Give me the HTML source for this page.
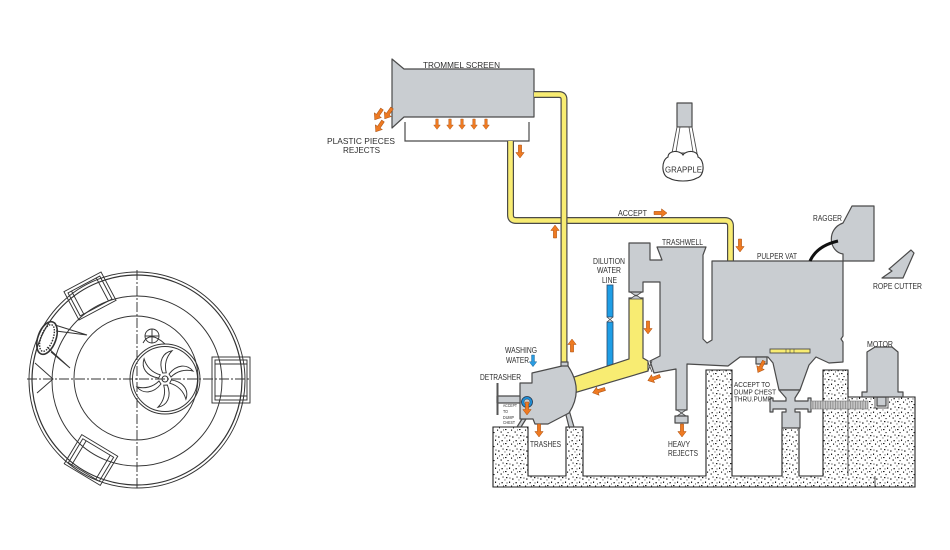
<!DOCTYPE html>
<html><head><meta charset="utf-8"><style>
html,body{margin:0;padding:0;background:#fff;}
svg{display:block;}
text{font-family:"Liberation Sans",Arial,sans-serif;fill:#2e2e2e;}
.g{fill:#c9cdd1;stroke:#4a4a4a;stroke-width:1.2;stroke-linejoin:round;}
.yl{fill:#f8ec72;stroke:#4a4a4a;stroke-width:1.2;}
.ln{fill:none;stroke:#333;stroke-width:0.95;}
.ar{fill:#ee7a22;stroke:#a84f10;stroke-width:0.5;}
</style></head><body>
<svg width="950" height="550" viewBox="0 0 950 550" xmlns="http://www.w3.org/2000/svg">
<defs>
<pattern id="conc" width="14" height="14" patternUnits="userSpaceOnUse">
<rect width="14" height="14" fill="#fff"/>
<g fill="#1a1a1a">
<rect x="2" y="1" width="1.4" height="1.2"/><rect x="8" y="2.5" width="1.6" height="1.1"/>
<rect x="5" y="5.5" width="1.1" height="1.5"/><rect x="11.5" y="6" width="1.3" height="1.3"/>
<rect x="1" y="9" width="1.5" height="1.1"/><rect x="7" y="9.5" width="1.1" height="1.3"/>
<rect x="10.5" y="11.5" width="1.4" height="1.1"/><rect x="3.5" y="12" width="1.1" height="1.1"/>
<rect x="12.5" y="0.5" width="1.1" height="1.1"/><rect x="9" y="7.5" width="0.9" height="0.9"/>
<rect x="5.5" y="1.5" width="0.9" height="1.1"/><rect x="2.5" y="6.5" width="1" height="0.9"/>
<rect x="0.5" y="3.5" width="0.9" height="0.9"/><rect x="13" y="9.5" width="0.9" height="0.9"/>
</g></pattern>
<pattern id="hatch" width="2.5" height="8" patternUnits="userSpaceOnUse">
<rect width="2.5" height="8" fill="#c4c4c4"/><rect width="0.8" height="8" fill="#8a8a8a"/>
</pattern>
<path id="arr" d="M-1.6,0 H1.6 V7.5 H4.2 L0,13 L-4.2,7.5 H-1.6 Z"/>
</defs>

<!-- ============ LEFT PLAN VIEW ============ -->
<g class="ln">
<circle cx="137" cy="380" r="108"/>
<circle cx="137" cy="380" r="105" stroke-width="1.2"/>
<circle cx="137" cy="381" r="85"/>
<circle cx="136" cy="378" r="62"/>
<line x1="137" y1="270" x2="137" y2="490" stroke-dasharray="10,2,2,2"/>
<line x1="27" y1="379" x2="250" y2="379" stroke-dasharray="10,2,2,2"/>
<circle cx="165" cy="379" r="35"/>
<circle cx="165" cy="379" r="32.5"/>
<circle cx="165" cy="379" r="3"/>
<g transform="translate(165,379)">
<path d="M4,-5 C12,-15 22,-15 28,-8 C20,-10 12,-8 6,-2 Z"/>
<path d="M4,-5 C12,-15 22,-15 28,-8 C20,-10 12,-8 6,-2 Z" transform="rotate(60)"/>
<path d="M4,-5 C12,-15 22,-15 28,-8 C20,-10 12,-8 6,-2 Z" transform="rotate(120)"/>
<path d="M4,-5 C12,-15 22,-15 28,-8 C20,-10 12,-8 6,-2 Z" transform="rotate(180)"/>
<path d="M4,-5 C12,-15 22,-15 28,-8 C20,-10 12,-8 6,-2 Z" transform="rotate(240)"/>
<path d="M4,-5 C12,-15 22,-15 28,-8 C20,-10 12,-8 6,-2 Z" transform="rotate(300)"/>
</g>
<circle cx="152" cy="336" r="7"/>
<line x1="145" y1="336" x2="159" y2="336"/><line x1="152" y1="329" x2="152" y2="343"/>
<path d="M143,343 Q150,330 165,344"/>
<g transform="translate(90,296) rotate(-28)">
<rect x="-21" y="-16" width="42" height="32"/><rect x="-18" y="-13" width="36" height="26"/>
<line x1="-14" y1="-13" x2="-14" y2="13"/><line x1="14" y1="-13" x2="14" y2="13"/>
</g>
<g transform="translate(231,380)">
<rect x="-19" y="-23" width="38" height="46"/><rect x="-16" y="-20" width="32" height="40"/>
<line x1="-16" y1="-16" x2="16" y2="-16"/><line x1="-16" y1="16" x2="16" y2="16"/>
</g>
<g transform="translate(91,460) rotate(31)">
<rect x="-21" y="-17" width="42" height="34"/><rect x="-18" y="-14" width="36" height="28"/>
<line x1="-14" y1="-14" x2="-14" y2="14"/><line x1="14" y1="-14" x2="14" y2="14"/>
</g>
<ellipse cx="47" cy="338" rx="9" ry="17" transform="rotate(20 47 338)" stroke-width="1.6"/>
<ellipse cx="47" cy="338" rx="6" ry="14" transform="rotate(20 47 338)" stroke-dasharray="1.5,1.2" stroke-width="1.4"/>
<polyline points="55,325 87,335 56,331"/>
<polyline points="47,347 70,368 51,352"/>
<polyline points="35,363 53,379 37,393"/>
</g>

<!-- ============ CONCRETE ============ -->
<path d="M493,427 H528 V476 H566 V427 H583 V476 H706 V370 H732 V476 H782 V428 H799 V476 H823 V370 H848 V397 H915 V487 H493 Z" fill="url(#conc)" stroke="#222" stroke-width="1.1"/>
<line x1="848" y1="397" x2="848" y2="476" stroke="#222" stroke-width="0.8"/>
<line x1="875" y1="476" x2="875" y2="487" stroke="#222" stroke-width="0.8"/>

<!-- ============ TROMMEL ============ -->
<polygon class="g" points="392,59 404,69 534,69 534,117 404,117 392,128"/>
<polyline points="405,122 405,141 529,141 529,122" fill="none" stroke="#4a4a4a" stroke-width="1.2"/>

<path d="M534,94.5 H559 Q564,94.5 564,99.5 V367" fill="none" stroke="#4a4a4a" stroke-width="7"/>
<path d="M534,94.5 H559 Q564,94.5 564,99.5 V367" fill="none" stroke="#f8ec72" stroke-width="4.6"/>
<path d="M510.5,141 V215 Q510.5,220.5 516,220.5 H560.5" fill="none" stroke="#4a4a4a" stroke-width="7"/>
<path d="M510.5,141 V215 Q510.5,220.5 516,220.5 H560.5" fill="none" stroke="#f8ec72" stroke-width="4.6"/>
<path d="M567.5,220.5 H725 Q730.5,220.5 730.5,226 V261" fill="none" stroke="#4a4a4a" stroke-width="7"/>
<path d="M567.5,220.5 H725 Q730.5,220.5 730.5,226 V261" fill="none" stroke="#f8ec72" stroke-width="4.6"/>

<rect x="607" y="285" width="6" height="32" fill="#1e9ee6" stroke="#2b4a6b" stroke-width="0.8"/>
<rect x="607" y="322" width="6" height="46" fill="#1e9ee6" stroke="#2b4a6b" stroke-width="0.8"/>
<path d="M607,317 L613,322 M613,317 L607,322" stroke="#444" stroke-width="0.8"/>

<path class="yl" d="M629,298 H643 V358 L648,361 V371 L574,393 L571,378 L629,359 Z"/>
<path d="M630,292 H642 L636,296 Z M630,299 H642 L636,295 Z" fill="#c9cdd1" stroke="#4a4a4a" stroke-width="0.8"/>

<path class="g" d="M629,243 H650 V260 H662 L657,247 H706 L703,255 V339 L707,343 L712,340 V261 H843 V336 L841,339 L843,342 V362 L829,363 L816,357 L809,365 L800,390 H779 L773,363 L768,357 H740 L728,366 L687,364 V410 H676 V369 L654,373 L650,361 L660,356 V282 H643 V292 H629 Z"/>
<path d="M648,362 L652,372 M652,361 L648,371" stroke="#444" stroke-width="0.8"/>
<rect class="g" x="756" y="357" width="11" height="7"/>
<path d="M677,410 H686 L681.5,413 Z M677,416 H686 L681.5,413 Z" fill="#c9cdd1" stroke="#4a4a4a" stroke-width="0.8"/>
<rect class="g" x="675" y="416" width="13" height="7"/>
<rect x="770" y="349" width="40" height="4" fill="#f8ec72" stroke="#4a4a4a" stroke-width="0.9"/>
<path d="M786,349 V353 M790,349 V353 M794,349 V353" stroke="#4a4a4a" stroke-width="0.6"/>

<path class="g" d="M779,390 H800 L795,398 V401 H808 V398 H811 V412 H808 V409 H795 V412 H800 V428 H782 V412 H786 V409 H773 V412 H770 V398 H773 V401 H786 V398 Z"/>
<rect x="811" y="401" width="57" height="8" fill="url(#hatch)" stroke="#777" stroke-width="0.6"/>
<rect x="875" y="397" width="13" height="11" fill="#fff" stroke="#333" stroke-width="0.8"/>
<rect class="g" x="877" y="397" width="9" height="9"/>
<polygon class="g" points="875,347 892,347 898,352 898,392 903,392 903,397 862,397 862,392 867,392 867,352"/>

<path class="g" d="M852,206 H874 V261 H843 V254 C829,252 826,229 843,223 Z"/>
<path d="M810,261 C815,250 825,244 838,241" fill="none" stroke="#111" stroke-width="3"/>
<polygon class="g" points="911,250 914,253 903,278 882,278 892,271 889,269"/>

<rect class="g" x="677" y="103" width="15" height="24"/>
<polygon points="677,127 692,127 697,153 672,153" fill="#fff" stroke="#4a4a4a" stroke-width="0.9"/>
<polyline points="680,127 676,152" fill="none" stroke="#4a4a4a" stroke-width="0.8"/>
<polyline points="689,127 693,152" fill="none" stroke="#4a4a4a" stroke-width="0.8"/>
<path d="M668,157 C668,150 680,150 683,155 C686,150 698,150 698,157 C705,160 705,176 697,178 C690,182 676,182 669,178 C661,176 661,160 668,157 Z" fill="#fff" stroke="#333" stroke-width="1.1"/>

<rect class="g" x="561" y="362" width="7" height="5"/>
<polygon class="g" points="522,419 526,419 521,427 517,427"/>
<polygon class="g" points="565,411 569,410 574,427 569,427"/>
<path class="g" d="M532,373 L562,366 L568,366 Q584,390 569,413 L548,424 L535,424 L533,419 L520,419 L520,383 L532,383 Z"/>
<rect class="g" x="497" y="396" width="23" height="7"/>
<line x1="497.5" y1="383" x2="497.5" y2="415" stroke="#555" stroke-width="2"/>
<circle cx="527" cy="402" r="5.5" fill="#1e8fd8" stroke="#23384f" stroke-width="0.8"/>
<circle cx="527" cy="402" r="3" fill="#c9cdd1" stroke="#333" stroke-width="0.5"/>

<g class="ar">
<use href="#arr" transform="translate(437,119) scale(0.8)"/>
<use href="#arr" transform="translate(450,119) scale(0.8)"/>
<use href="#arr" transform="translate(462,119) scale(0.8)"/>
<use href="#arr" transform="translate(474,119) scale(0.8)"/>
<use href="#arr" transform="translate(486,119) scale(0.8)"/>
<use href="#arr" transform="translate(520,145)"/>
<use href="#arr" transform="translate(382,109) rotate(34)"/>
<use href="#arr" transform="translate(392,108) rotate(34)"/>
<use href="#arr" transform="translate(383,121) rotate(34)"/>
<use href="#arr" transform="translate(555,238) rotate(180)"/>
<use href="#arr" transform="translate(654,213) rotate(-90)"/>
<use href="#arr" transform="translate(740,239)"/>
<use href="#arr" transform="translate(648,321)"/>
<use href="#arr" transform="translate(572,352) rotate(180)"/>
<use href="#arr" transform="translate(605,389) rotate(73)"/>
<use href="#arr" transform="translate(660,376) rotate(69)"/>
<use href="#arr" transform="translate(539,424)"/>
<use href="#arr" transform="translate(682,424)"/>
<use href="#arr" transform="translate(527,402)"/>
<use href="#arr" transform="translate(764,361) rotate(28)"/>
</g>
<use href="#arr" transform="translate(533,355) scale(0.9)" fill="#2a9be0" stroke="#1b5d8a" stroke-width="0.5"/>

<g font-size="8.5">
<text x="423" y="68" textLength="77" lengthAdjust="spacingAndGlyphs">TROMMEL SCREEN</text>
<text x="327" y="144" textLength="68" lengthAdjust="spacingAndGlyphs">PLASTIC PIECES</text>
<text x="343" y="153" textLength="37" lengthAdjust="spacingAndGlyphs">REJECTS</text>
<text x="618" y="216" textLength="29" lengthAdjust="spacingAndGlyphs">ACCEPT</text>
<text x="662" y="245" textLength="41" lengthAdjust="spacingAndGlyphs">TRASHWELL</text>
<text x="593" y="264" textLength="32" lengthAdjust="spacingAndGlyphs">DILUTION</text>
<text x="597" y="273" textLength="24" lengthAdjust="spacingAndGlyphs">WATER</text>
<text x="602" y="283" textLength="15" lengthAdjust="spacingAndGlyphs">LINE</text>
<text x="757" y="259" textLength="40" lengthAdjust="spacingAndGlyphs">PULPER VAT</text>
<text x="813" y="221" textLength="29" lengthAdjust="spacingAndGlyphs">RAGGER</text>
<text x="873" y="289" textLength="49" lengthAdjust="spacingAndGlyphs">ROPE CUTTER</text>
<text x="665" y="172.5" textLength="37" lengthAdjust="spacingAndGlyphs">GRAPPLE</text>
<text x="867" y="347" textLength="26" lengthAdjust="spacingAndGlyphs">MOTOR</text>
<text x="505" y="353" textLength="32" lengthAdjust="spacingAndGlyphs">WASHING</text>
<text x="506" y="363" textLength="23" lengthAdjust="spacingAndGlyphs">WATER</text>
<text x="480" y="380" textLength="41" lengthAdjust="spacingAndGlyphs">DETRASHER</text>
<text x="530" y="447" textLength="31" lengthAdjust="spacingAndGlyphs">TRASHES</text>
<text x="668" y="447" textLength="22" lengthAdjust="spacingAndGlyphs">HEAVY</text>
<text x="668" y="456" textLength="30" lengthAdjust="spacingAndGlyphs">REJECTS</text>
</g>
<g font-size="7.2">
<text x="734" y="387" textLength="36" lengthAdjust="spacingAndGlyphs">ACCEPT TO</text>
<text x="734" y="394.5" textLength="42" lengthAdjust="spacingAndGlyphs">DUMP CHEST</text>
<text x="734" y="401.5" textLength="38" lengthAdjust="spacingAndGlyphs">THRU.PUMP</text>
</g>
<g font-size="4.5">
<text x="503" y="407" textLength="14" lengthAdjust="spacingAndGlyphs">ACCEPT</text>
<text x="503" y="413" textLength="5" lengthAdjust="spacingAndGlyphs">TO</text>
<text x="503" y="419" textLength="11" lengthAdjust="spacingAndGlyphs">DUMP</text>
<text x="503" y="424" textLength="12" lengthAdjust="spacingAndGlyphs">CHEST</text>
</g>
</svg>
</body></html>
